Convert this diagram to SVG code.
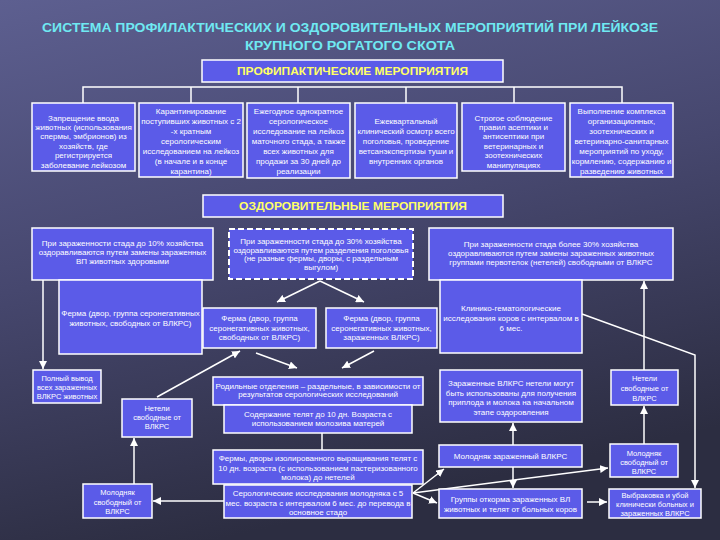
<svg xmlns="http://www.w3.org/2000/svg" width="720" height="540" viewBox="0 0 720 540">
<defs>
<linearGradient id="bg" x1="0" y1="0" x2="0.3" y2="1">
<stop offset="0" stop-color="#5d5f90"/>
<stop offset="0.5" stop-color="#46476e"/>
<stop offset="1" stop-color="#2c2d41"/>
</linearGradient>
<marker id="ah" viewBox="0 0 8 8" refX="8" refY="4" markerWidth="8" markerHeight="8" markerUnits="userSpaceOnUse" orient="auto">
<path d="M0,0 L8,4 L0,8 z" fill="#ffffff"/>
</marker>
<style>
.box{fill:#5b5be8;stroke:#ffffff;stroke-width:1.5}
.dash{fill:#5b5be8;stroke:#ffffff;stroke-width:2;stroke-dasharray:6 3}
.t{font-family:"Liberation Sans",Arial,sans-serif;font-size:8px;fill:#ffffff;text-anchor:middle}
.s{font-size:7.5px}
.hd{font-family:"Liberation Sans",Arial,sans-serif;font-size:11px;font-weight:bold;fill:#ffff66;text-anchor:middle}
.ttl{font-family:"Liberation Sans",Arial,sans-serif;font-size:13px;font-weight:bold;fill:#6fe9f2;text-anchor:middle}
.ln{fill:none;stroke:#ffffff;stroke-width:1.5}
.ar{fill:none;stroke:#ffffff;stroke-width:1.5;marker-end:url(#ah)}
</style>
</defs>
<rect x="0" y="0" width="720" height="540" fill="url(#bg)"/>

<g id="title">
<text class="ttl" x="350" y="32" textLength="616" lengthAdjust="spacingAndGlyphs">СИСТЕМА ПРОФИЛАКТИЧЕСКИХ И ОЗДОРОВИТЕЛЬНЫХ МЕРОПРИЯТИЙ ПРИ ЛЕЙКОЗЕ</text>
<text class="ttl" x="350" y="50" textLength="210" lengthAdjust="spacingAndGlyphs">КРУПНОГО РОГАТОГО СКОТА</text>
</g>

<g id="connectors">
<path class="ln" d="M83,103 V87 H622 V103 M191,87 V103 M298,87 V103 M406,87 V103 M514,87 V103"/>
<path class="ar" d="M43,280 V369"/>
<path class="ar" d="M320,281 L277,302"/>
<path class="ar" d="M320,281 L364,302"/>
<path class="ar" d="M157,397 L240,351"/>
<path class="ar" d="M256,353 L297,368"/>
<path class="ar" d="M374,351 L342,368"/>
<path class="ar" d="M582,314 L695,355 V488"/>
<path class="ar" d="M644,370 V281"/>
<path class="ar" d="M644,444 V406"/>
<path class="ar" d="M513,445 V423"/>
<path class="ar" d="M513,467 V488"/>
<path class="ln" d="M322,433 V450"/>
<path class="ar" d="M134,484 V438"/>
<path class="ar" d="M224,501 H153"/>
<path class="ar" d="M413,493 L444,469"/>
<path class="ar" d="M413,493 L608,468"/>
<path class="ar" d="M413,493 L437,503"/>
<path class="ar" d="M587,502 H607"/>
</g>

<g id="hdr1">
<rect class="box" x="202" y="60" width="301" height="22"/>
<text class="hd" x="352.5" y="75" textLength="231" lengthAdjust="spacingAndGlyphs">ПРОФИПАКТИЧЕСКИЕ МЕРОПРИЯТИЯ</text>
</g>

<g id="p1">
<rect class="box" x="32" y="103" width="103" height="68"/>
<text class="t"><tspan x="83.5" y="120.5">Запрещение ввода</tspan><tspan x="83.5" y="130">животных (использования</tspan><tspan x="83.5" y="139.4">спермы, эмбрионов) из</tspan><tspan x="83.5" y="148.9">хозяйств, где</tspan><tspan x="83.5" y="158.3">регистрируется</tspan><tspan x="83.5" y="167.8">заболевание лейкозом</tspan></text>
</g>
<g id="p2">
<rect class="box" x="139" y="103" width="104" height="74"/>
<text class="t"><tspan x="191" y="113.5">Карантинирование</tspan><tspan x="191" y="123.6">поступивших животных с 2</tspan><tspan x="191" y="133.7">-х кратным</tspan><tspan x="191" y="143.8">серологическим</tspan><tspan x="191" y="153.9">исследованием на лейкоз</tspan><tspan x="191" y="164">(в начале и в конце</tspan><tspan x="191" y="174">карантина)</tspan></text>
</g>
<g id="p3">
<rect class="box" x="247" y="103" width="103" height="75"/>
<text class="t"><tspan x="298.5" y="113.5">Ежегодное однократное</tspan><tspan x="298.5" y="123.6">серологическое</tspan><tspan x="298.5" y="133.7">исследование на лейкоз</tspan><tspan x="298.5" y="143.8">маточного стада, а также</tspan><tspan x="298.5" y="153.9">всех животных для</tspan><tspan x="298.5" y="164">продажи за 30 дней до</tspan><tspan x="298.5" y="174">реализации</tspan></text>
</g>
<g id="p4">
<rect class="box" x="355" y="103" width="102" height="75"/>
<text class="t"><tspan x="406" y="124">Ежеквартальный</tspan><tspan x="406" y="134">клинический осмотр всего</tspan><tspan x="406" y="144">поголовья, проведение</tspan><tspan x="406" y="154">ветсанэкспертизы туши и</tspan><tspan x="406" y="164">внутренних органов</tspan></text>
</g>
<g id="p5">
<rect class="box" x="462" y="103" width="103" height="68"/>
<text class="t"><tspan x="513.5" y="120.5">Строгое соблюдение</tspan><tspan x="513.5" y="130">правил асептики и</tspan><tspan x="513.5" y="139.4">антисептики при</tspan><tspan x="513.5" y="148.9">ветеринарных и</tspan><tspan x="513.5" y="158.3">зоотехнических</tspan><tspan x="513.5" y="167.8">манипуляциях</tspan></text>
</g>
<g id="p6">
<rect class="box" x="570" y="103" width="103" height="74"/>
<text class="t"><tspan x="621.5" y="114">Выполнение комплекса</tspan><tspan x="621.5" y="124">организационных,</tspan><tspan x="621.5" y="134">зоотехнических и</tspan><tspan x="621.5" y="144">ветеринарно-санитарных</tspan><tspan x="621.5" y="154">мероприятий по уходу,</tspan><tspan x="621.5" y="164">кормлению, содержанию и</tspan><tspan x="621.5" y="174">разведению животных</tspan></text>
</g>

<g id="hdr2">
<rect class="box" x="203" y="195" width="300" height="22"/>
<text class="hd" x="353" y="210" textLength="228" lengthAdjust="spacingAndGlyphs">ОЗДОРОВИТЕЛЬНЫЕ МЕРОПРИЯТИЯ</text>
</g>

<g id="o10">
<rect class="box" x="32" y="228" width="181" height="52"/>
<text class="t"><tspan x="122.5" y="246">При зараженности стада до 10% хозяйства</tspan><tspan x="122.5" y="255">оздоравливаются путем замены зараженных</tspan><tspan x="122.5" y="264">ВП животных здоровыми</tspan></text>
</g>
<g id="o30">
<rect class="dash" x="229" y="229" width="184" height="50"/>
<text class="t"><tspan x="321" y="244">При зараженности стада до 30% хозяйства</tspan><tspan x="321" y="252.5">оздоравливаются путем разделения поголовья</tspan><tspan x="321" y="261">(не разные фермы, дворы, с раздельным</tspan><tspan x="321" y="269.5">выгулом)</tspan></text>
</g>
<g id="o30p">
<rect class="box" x="429" y="228" width="244" height="52"/>
<text class="t"><tspan x="551" y="247">При зараженности стада более 30% хозяйства</tspan><tspan x="551" y="256">оздоравливаются путем замены зараженных животных</tspan><tspan x="551" y="264.5">группами первотелок (нетелей) свободными от ВЛКРС</tspan></text>
</g>

<g id="farmBig">
<rect class="box" x="59" y="280" width="143" height="74"/>
<text class="t"><tspan x="130.5" y="316">Ферма (двор, группа серонегативных</tspan><tspan x="130.5" y="326">животных, свободных от ВЛКРС)</tspan></text>
</g>
<g id="farmNeg">
<rect class="box" x="203" y="308" width="113" height="40"/>
<text class="t"><tspan x="259.5" y="321">Ферма (двор, группа</tspan><tspan x="259.5" y="331">серонегативных животных,</tspan><tspan x="259.5" y="340">свободных от ВЛКРС)</tspan></text>
</g>
<g id="farmPos">
<rect class="box" x="326" y="308" width="111" height="40"/>
<text class="t"><tspan x="381.5" y="321">Ферма (двор, группа</tspan><tspan x="381.5" y="331">серонегативных животных,</tspan><tspan x="381.5" y="340">зараженных ВЛКРС)</tspan></text>
</g>
<g id="clinic">
<rect class="box" x="440" y="280" width="142" height="73"/>
<text class="t"><tspan x="511" y="311">Клинико-гематологические</tspan><tspan x="511" y="321">исследования коров с интервалом в</tspan><tspan x="511" y="331">6 мес.</tspan></text>
</g>

<g id="removeAll">
<rect class="box" x="33" y="370" width="68" height="33"/>
<text class="t s"><tspan x="67" y="381">Полный вывод</tspan><tspan x="67" y="390">всех зараженных</tspan><tspan x="67" y="398.5">ВЛКРС животных</tspan></text>
</g>
<g id="heifersL">
<rect class="box" x="122" y="399" width="70" height="38"/>
<text class="t s"><tspan x="157" y="410.5">Нетели</tspan><tspan x="157" y="419.5">свободные от</tspan><tspan x="157" y="428.5">ВЛКРС</tspan></text>
</g>
<g id="maternity">
<rect class="box" x="213" y="377" width="210" height="28"/>
<text class="t"><tspan x="318" y="388.5">Родильные отделения – раздельные, в зависимости от</tspan><tspan x="318" y="397">результатов серологических исследований</tspan></text>
</g>
<g id="calves10">
<rect class="box" x="224" y="405" width="188" height="28"/>
<text class="t"><tspan x="318" y="417">Содержание телят до 10 дн. Возраста с</tspan><tspan x="318" y="426">использованием молозива матерей</tspan></text>
</g>
<g id="infHeifers">
<rect class="box" x="440" y="370" width="142" height="52"/>
<text class="t"><tspan x="511" y="386">Зараженные ВЛКРС нетели могут</tspan><tspan x="511" y="395.5">быть использованы для получения</tspan><tspan x="511" y="405">приплода и молока на начальном</tspan><tspan x="511" y="414.5">этапе оздоровления</tspan></text>
</g>
<g id="heifersR">
<rect class="box" x="611" y="370" width="67" height="35"/>
<text class="t s"><tspan x="644.5" y="381">Нетели</tspan><tspan x="644.5" y="391">свободные от</tspan><tspan x="644.5" y="401">ВЛКРС</tspan></text>
</g>

<g id="farmsIso">
<rect class="box" x="213" y="450" width="210" height="34"/>
<text class="t"><tspan x="318" y="461">Фермы, дворы изолированного выращивания телят с</tspan><tspan x="318" y="470.5">10 дн. возраста (с использованием пастеризованного</tspan><tspan x="318" y="480">молока) до нетелей</tspan></text>
</g>
<g id="serol">
<rect class="box" x="224" y="485" width="188" height="33"/>
<text class="t"><tspan x="318" y="496">Серологические исследования молодняка с 5</tspan><tspan x="318" y="505.5">мес. возраста с интервалом 6 мес. до перевода в</tspan><tspan x="318" y="514.5">основное стадо</tspan></text>
</g>
<g id="youngL">
<rect class="box" x="83" y="484" width="69" height="34"/>
<text class="t s"><tspan x="117.5" y="495">Молодняк</tspan><tspan x="117.5" y="504.5">свободный от</tspan><tspan x="117.5" y="513.5">ВЛКРС</tspan></text>
</g>
<g id="youngInf">
<rect class="box" x="439" y="445" width="143" height="22"/>
<text class="t"><tspan x="510.5" y="459">Молодняк зараженный ВЛКРС</tspan></text>
</g>
<g id="fattening">
<rect class="box" x="439" y="489" width="143" height="29"/>
<text class="t"><tspan x="510.5" y="501.5">Группы откорма зараженных ВЛ</tspan><tspan x="510.5" y="512">животных и телят от больных коров</tspan></text>
</g>
<g id="youngR">
<rect class="box" x="610" y="444" width="68" height="33"/>
<text class="t s"><tspan x="644" y="455.5">Молодняк</tspan><tspan x="644" y="465">свободный от</tspan><tspan x="644" y="474">ВЛКРС</tspan></text>
</g>
<g id="culling">
<rect class="box" x="609" y="489" width="92" height="29"/>
<text class="t s"><tspan x="655" y="497.5">Выбраковка и убой</tspan><tspan x="655" y="506.5">клинически больных и</tspan><tspan x="655" y="516">зараженных ВЛКРС</tspan></text>
</g>
</svg>
